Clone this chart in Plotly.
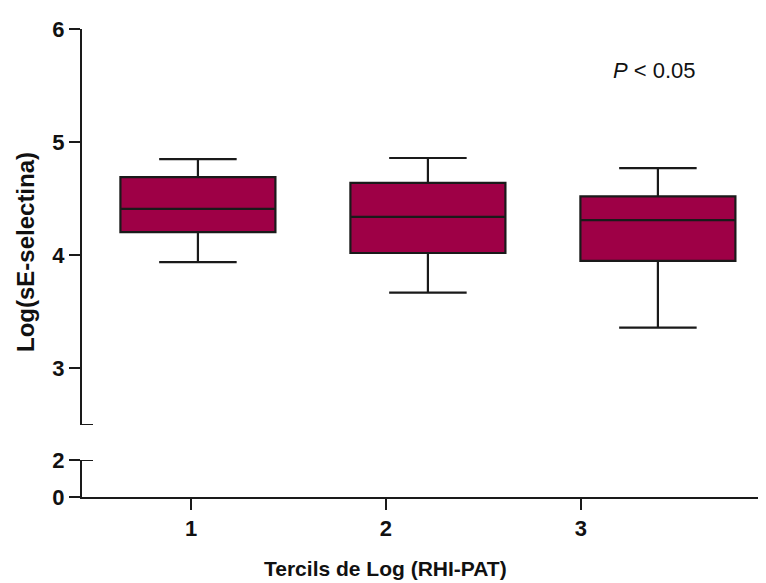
import plotly.graph_objects as go

# Data
groups = [1, 2, 3]
tick_labels = ["1", "2", "3"]
lower_whisker = [3.94, 3.67, 3.36]
q1 = [4.205, 4.02, 3.95]
median = [4.41, 4.34, 4.31]
q3 = [4.69, 4.64, 4.52]
upper_whisker = [4.85, 4.86, 4.77]

BOX_COLOR = "#9E0046"
LINE = "#1a1a1a"
FONT = "Liberation Sans, Arial, sans-serif"

fig = go.Figure()
fig.add_trace(go.Box(
    x=groups, q1=q1, median=median, q3=q3,
    lowerfence=lower_whisker, upperfence=upper_whisker,
    fillcolor=BOX_COLOR, line=dict(color=LINE, width=2.2),
    width=0.674, whiskerwidth=0.5, boxpoints=False,
    xaxis="x", yaxis="y", showlegend=False, hoverinfo="skip",
))

# page body has an 8px margin, so the figure is made 8px smaller
W, H = 758, 575
left, right, top, bottom = 74, 0, 21, 86
plot_w = W - left - right   # 684
plot_h = H - top - bottom   # 468
upper_dom = [72 / plot_h, 1.0]
lower_dom = [0.0, 37 / plot_h]

tickfont = dict(family=FONT, size=22, color="#111", weight="bold")
axis_common = dict(showgrid=False, zeroline=False, linecolor=LINE, linewidth=2,
                   tickcolor=LINE, tickwidth=2, ticklen=11, tickfont=tickfont)

fig.update_layout(
    width=W, height=H,
    margin=dict(l=left, r=right, t=top, b=bottom, pad=0),
    paper_bgcolor="white", plot_bgcolor="white",
    font=dict(family=FONT, color="#111"),
    xaxis=dict(domain=[0, 1], range=[0.496, 3.47], anchor="y", visible=False),
    yaxis=dict(domain=upper_dom, range=[2.5, 6], anchor="x", tickvals=[3, 4, 5, 6],
               showline=True, ticks="outside", **axis_common),
    xaxis2=dict(domain=[0, 1], range=[0.441, 3.949], anchor="y2",
                tickvals=groups, ticktext=tick_labels, showline=True, ticks="outside",
                **axis_common),
    yaxis2=dict(domain=lower_dom, range=[0, 2], anchor="x2", tickvals=[0, 2],
                showline=True, ticks="outside", **axis_common),
    annotations=[
        dict(text="<b>Log(sE-selectina)</b>", textangle=-90, xref="paper", yref="paper",
             x=-(82 - 25) / plot_w, y=(497 - 252) / plot_h,
             xanchor="center", yanchor="middle", showarrow=False,
             font=dict(family=FONT, size=24, color="#111")),
        dict(text="<b>Tercils de Log (RHI-PAT)</b>", xref="paper", yref="paper",
             x=(385 - 82) / plot_w, y=-(568 - 497) / plot_h,
             xanchor="center", yanchor="middle", showarrow=False,
             font=dict(family=FONT, size=21, color="#111")),
        dict(text="<i>P</i> < 0.05", xref="paper", yref="paper",
             x=(654 - 82) / plot_w, y=(497 - 70) / plot_h,
             xanchor="center", yanchor="middle", showarrow=False,
             font=dict(family=FONT, size=22, color="#111")),
    ],
    shapes=[
        dict(type="line", xref="x domain", yref="y", x0=0, x1=11 / plot_w,
             y0=2.5, y1=2.5, line=dict(color=LINE, width=2)),
        dict(type="line", xref="x domain", yref="y2", x0=0, x1=11 / plot_w,
             y0=2, y1=2, line=dict(color=LINE, width=2)),
    ],
)

fig.write_html("out.html")
